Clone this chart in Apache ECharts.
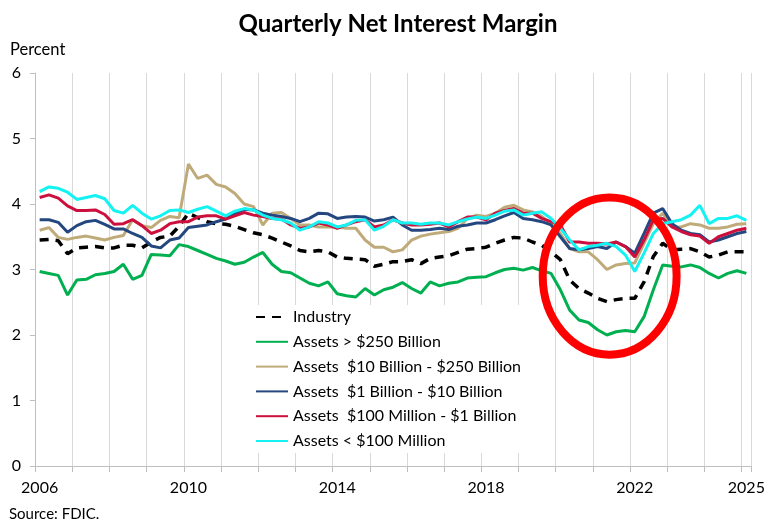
<!DOCTYPE html>
<html><head><meta charset="utf-8">
<script src="https://cdn.jsdelivr.net/npm/echarts@6/dist/echarts.min.js"></script>
<style>html,body{margin:0;padding:0;background:#fff}#chart{width:772px;height:525px}</style>
</head><body><div id="chart"></div>
<script>
// Categories: quarters 2006Q1 .. 2025Q1
const quarters = [];
for (let y = 2006; y <= 2025; y++) {
  for (let q = 1; q <= 4; q++) {
    if (y === 2025 && q > 1) break;
    quarters.push(y + 'Q' + q);
  }
}
const tickLabels = ['2006', '2010', '2014', '2018', '2022', '2025'];

const industry = [3.45, 3.46, 3.44, 3.24, 3.33, 3.34, 3.35, 3.33, 3.33, 3.37,
  3.37, 3.33, 3.42, 3.49, 3.51, 3.66, 3.86, 3.79, 3.73, 3.70,
  3.69, 3.66, 3.61, 3.56, 3.53, 3.48, 3.42, 3.36, 3.29, 3.27,
  3.29, 3.27, 3.19, 3.17, 3.16, 3.15, 3.05, 3.08, 3.12, 3.12,
  3.15, 3.09, 3.17, 3.19, 3.21, 3.26, 3.31, 3.32, 3.34, 3.40,
  3.45, 3.49, 3.48, 3.42, 3.37, 3.27, 3.15, 2.84, 2.71, 2.64,
  2.56, 2.51, 2.54, 2.56, 2.56, 2.81, 3.20, 3.40, 3.30, 3.31,
  3.32, 3.27, 3.19, 3.22, 3.27, 3.27, 3.27];

const over250B = [2.97, 2.94, 2.91, 2.61, 2.84, 2.85, 2.92, 2.94, 2.97, 3.08,
  2.85, 2.91, 3.23, 3.22, 3.21, 3.38, 3.35, 3.29, 3.23, 3.17,
  3.13, 3.08, 3.11, 3.19, 3.26, 3.08, 2.97, 2.95, 2.87, 2.79,
  2.75, 2.81, 2.63, 2.60, 2.58, 2.71, 2.61, 2.69, 2.73, 2.80,
  2.71, 2.64, 2.81, 2.75, 2.79, 2.81, 2.87, 2.88, 2.89, 2.95,
  3.00, 3.02, 2.99, 3.03, 2.98, 2.94, 2.69, 2.38, 2.23, 2.19,
  2.08, 2.00, 2.05, 2.07, 2.05, 2.28, 2.69, 3.07, 3.05, 3.04,
  3.07, 3.03, 2.94, 2.87, 2.94, 2.98, 2.94];

const b10to250 = [3.60, 3.64, 3.49, 3.46, 3.49, 3.51, 3.48, 3.45, 3.49, 3.52,
  3.76, 3.67, 3.64, 3.75, 3.81, 3.79, 4.61, 4.39, 4.44, 4.30,
  4.26, 4.16, 4.00, 3.96, 3.68, 3.86, 3.87, 3.78, 3.68, 3.68,
  3.65, 3.65, 3.65, 3.63, 3.63, 3.45, 3.34, 3.34, 3.27, 3.30,
  3.45, 3.51, 3.54, 3.56, 3.58, 3.63, 3.78, 3.83, 3.81, 3.86,
  3.95, 3.98, 3.91, 3.88, 3.81, 3.70, 3.55, 3.32, 3.27, 3.27,
  3.15, 3.00, 3.07, 3.09, 3.10, 3.40, 3.70, 3.86, 3.65, 3.65,
  3.70, 3.68, 3.63, 3.63, 3.65, 3.69, 3.70];

const b1to10 = [3.76, 3.76, 3.72, 3.57, 3.67, 3.73, 3.75, 3.69, 3.62, 3.62,
  3.55, 3.49, 3.36, 3.33, 3.45, 3.48, 3.64, 3.66, 3.68, 3.73,
  3.77, 3.85, 3.92, 3.91, 3.86, 3.83, 3.81, 3.78, 3.73, 3.78,
  3.86, 3.85, 3.78, 3.80, 3.81, 3.80, 3.74, 3.76, 3.80, 3.68,
  3.60, 3.60, 3.61, 3.63, 3.61, 3.66, 3.68, 3.71, 3.71, 3.76,
  3.82, 3.87, 3.78, 3.76, 3.73, 3.68, 3.50, 3.32, 3.30, 3.32,
  3.35, 3.32, 3.42, 3.35, 3.25, 3.55, 3.86, 3.93, 3.70, 3.60,
  3.55, 3.53, 3.42, 3.45, 3.50, 3.55, 3.58];

const m100to1B = [4.10, 4.14, 4.09, 3.97, 3.90, 3.90, 3.91, 3.84, 3.69, 3.70,
  3.76, 3.67, 3.55, 3.60, 3.70, 3.73, 3.73, 3.80, 3.82, 3.82,
  3.77, 3.82, 3.87, 3.83, 3.81, 3.78, 3.77, 3.68, 3.63, 3.65,
  3.71, 3.68, 3.63, 3.68, 3.73, 3.76, 3.65, 3.68, 3.76, 3.71,
  3.68, 3.68, 3.69, 3.71, 3.65, 3.73, 3.80, 3.80, 3.76, 3.86,
  3.90, 3.93, 3.86, 3.86, 3.78, 3.73, 3.68, 3.42, 3.42, 3.40,
  3.40, 3.39, 3.42, 3.35, 3.19, 3.45, 3.76, 3.78, 3.65, 3.58,
  3.53, 3.51, 3.40, 3.50, 3.55, 3.60, 3.63];

const under100M = [4.19, 4.26, 4.24, 4.18, 4.07, 4.10, 4.13, 4.08, 3.90, 3.86,
  3.98, 3.86, 3.77, 3.82, 3.90, 3.91, 3.87, 3.92, 3.96, 3.89,
  3.82, 3.89, 3.93, 3.91, 3.83, 3.78, 3.76, 3.71, 3.60, 3.65,
  3.73, 3.71, 3.65, 3.68, 3.75, 3.76, 3.60, 3.66, 3.76, 3.71,
  3.71, 3.69, 3.71, 3.71, 3.68, 3.73, 3.77, 3.80, 3.78, 3.83,
  3.89, 3.91, 3.83, 3.86, 3.88, 3.78, 3.63, 3.45, 3.30, 3.35,
  3.37, 3.40, 3.35, 3.22, 2.97, 3.25, 3.55, 3.70, 3.73, 3.76,
  3.83, 3.98, 3.70, 3.78, 3.78, 3.82, 3.75];

const seriesNames = ['Industry', 'Assets > $250 Billion', 'Assets  $10 Billion - $250 Billion',
  'Assets  $1 Billion - $10 Billion', 'Assets  $100 Million - $1 Billion', 'Assets < $100 Million'];
const seriesColors = ['#000000', '#00b050', '#bfab79', '#24477f', '#cc0f3c', '#14f2f2'];

// annotation ellipse (in data terms)
const ellipseAt = { quarter: '2021Q2', shiftQuarters: 0.3, value: 2.9, rQuarters: 7.2, rValue: 1.2 };

const FONT = 'Lato';
const chart = echarts.init(document.getElementById('chart'), null, { renderer: 'canvas' });
const isQ1 = (i, v) => String(v).endsWith('Q1');

const allData = [industry, over250B, b10to250, b1to10, m100to1B, under100M];
const series = allData.map((d, k) => ({
  name: seriesNames[k],
  type: 'line',
  data: d,
  symbol: 'none',
  showSymbol: false,
  smooth: false,
  color: seriesColors[k],
  lineStyle: k === 0
    ? { color: seriesColors[k], width: 3.5, type: [9, 7], cap: 'butt' }
    : { color: seriesColors[k], width: 3 },
  z: 2 + k,
  animation: false
}));

chart.setOption({
  animation: false,
  backgroundColor: '#ffffff',
  textStyle: { fontFamily: FONT },
  title: [
    { text: 'Quarterly Net Interest Margin', left: 393, textAlign: 'center', top: 7,
      textStyle: { fontFamily: FONT, fontWeight: 'bold', fontSize: 24, color: '#000' } },
    { text: 'Percent', left: 5, top: 36,
      textStyle: { fontFamily: FONT, fontWeight: 'normal', fontSize: 16.5, color: '#000' } },
    { text: 'Source: FDIC.', left: 4, top: 502,
      textStyle: { fontFamily: FONT, fontWeight: 'normal', fontSize: 15, color: '#000' } }
  ],
  grid: { left: 35, right: 21, top: 73, bottom: 59, containLabel: false },
  legend: {
    orient: 'vertical',
    left: 226, top: 305,
    padding: [3, 18, 3, 29],
    backgroundColor: '#ffffff',
    itemWidth: 32, itemHeight: 14, itemGap: 6.8,
    itemStyle: { opacity: 0 },
    textStyle: { fontFamily: FONT, fontSize: 16, color: '#000', lineHeight: 18 },
    data: seriesNames,
    selectedMode: false,
    z: 10
  },
  xAxis: {
    type: 'category',
    data: quarters,
    boundaryGap: true,
    axisLine: { show: true, lineStyle: { color: '#bfbfbf', width: 1 } },
    axisTick: { show: true, length: 6, interval: isQ1, lineStyle: { color: '#bfbfbf' } },
    splitLine: { show: true, interval: isQ1, lineStyle: { color: '#d9d9d9', width: 1 } },
    axisLabel: {
      interval: (i, v) => isQ1(i, v) && tickLabels.includes(String(v).slice(0, 4)),
      formatter: v => String(v).slice(0, 4),
      margin: 14, fontSize: 16, color: '#000', fontFamily: FONT
    }
  },
  yAxis: {
    type: 'value', min: 0, max: 6, interval: 1,
    axisLine: { show: true, lineStyle: { color: '#bfbfbf', width: 1 } },
    axisTick: { show: true, length: 5, lineStyle: { color: '#bfbfbf' } },
    splitLine: { show: false },
    axisLabel: { margin: 14, fontSize: 16, color: '#000', fontFamily: FONT }
  },
  series: series
});

// Draw the highlight ellipse anchored to the data coordinates
const idx = quarters.indexOf(ellipseAt.quarter);
const p0 = chart.convertToPixel({ gridIndex: 0 }, [quarters[idx], ellipseAt.value]);
const p1 = chart.convertToPixel({ gridIndex: 0 }, [quarters[idx + 1], ellipseAt.value + ellipseAt.rValue]);
const bandPx = p1[0] - p0[0];
chart.setOption({
  graphic: [{
    type: 'ellipse',
    shape: { cx: p0[0] + bandPx * ellipseAt.shiftQuarters, cy: p0[1], rx: bandPx * ellipseAt.rQuarters, ry: p0[1] - p1[1] },
    style: { fill: 'none', stroke: '#ff0000', lineWidth: 8 },
    z: 100, silent: true
  }]
});
</script>
</body></html>
